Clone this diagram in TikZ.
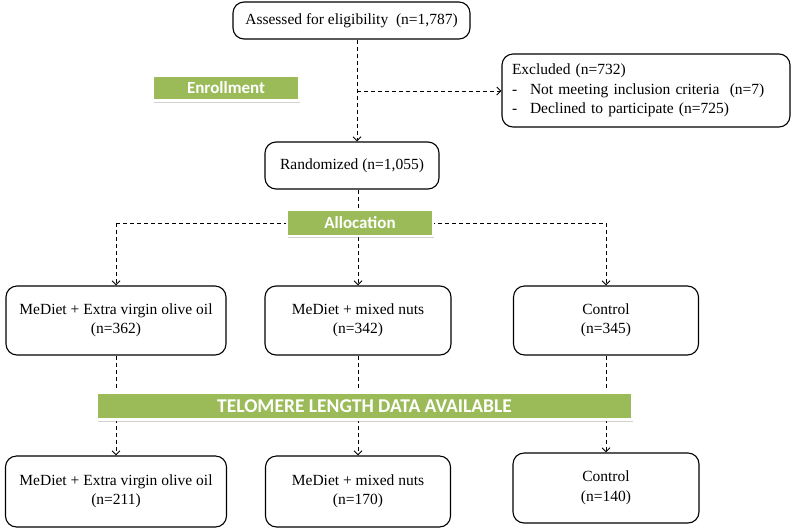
\documentclass[tikz,border=0pt]{standalone}
\usepackage{fontspec}
\setmainfont{Liberation Serif}
\newfontfamily\labelfont{Carlito}
\usetikzlibrary{arrows.meta,shadows,backgrounds}
\definecolor{olivegreen}{RGB}{155,187,89}
\begin{document}
\begin{tikzpicture}[x=1pt,y=1pt,
  box/.style={draw=black, line width=1.1pt, rounded corners=11pt, align=center,
    font=\fontsize{15.5}{19.5}\selectfont, inner sep=0pt},
  greenlabel/.style={fill=olivegreen, draw=white, line width=2.5pt, text=white,
    font=\labelfont\bfseries\fontsize{17}{19}\selectfont, inner sep=0pt,
    drop shadow={shadow xshift=0.8pt, shadow yshift=-2pt, opacity=0.35}},
  conn/.style={dash pattern=on 4pt off 3pt, line width=1pt},
  arr/.style={conn, -{Straight Barb[length=4pt,width=8pt]}}]
\useasboundingbox (0,0) rectangle (792,-528);

\node[box, minimum width=237pt, minimum height=37pt] (assess) at (351.5,-20.5)
  {Assessed for eligibility\ \ (n=1,787)};
\node[greenlabel, minimum width=146pt, minimum height=25pt] (enroll) at (226,-88) {Enrollment};
\node[box, minimum width=288pt, minimum height=73pt, align=left, text width=268pt] (excl) at (646,-90.5)
  {Excluded (n=732)\\\makebox[18pt][l]{-}Not meeting inclusion criteria\ \ (n=7)\\\makebox[18pt][l]{-}Declined to participate (n=725)};
\node[box, minimum width=174pt, minimum height=47pt] (rand) at (352,-165.5) {Randomized (n=1,055)};
\node[greenlabel, minimum width=146pt, minimum height=26pt] (alloc) at (360,-223) {Allocation};

\node[box, minimum width=220pt, minimum height=69pt] (a1) at (116,-320.5) {MeDiet + Extra virgin olive oil\\(n=362)};
\node[box, minimum width=186pt, minimum height=69pt] (b1) at (358,-320.5) {MeDiet + mixed nuts\\(n=342)};
\node[box, minimum width=185pt, minimum height=69pt] (c1) at (606,-320.5) {Control\\(n=345)};

\node[greenlabel, minimum width=535pt, minimum height=27pt, font=\labelfont\bfseries\fontsize{19.5}{21}\selectfont] (telo) at (364.5,-406) {TELOMERE LENGTH DATA AVAILABLE};

\node[box, minimum width=221pt, minimum height=71pt] (a2) at (116,-491.5) {MeDiet + Extra virgin olive oil\\(n=211)};
\node[box, minimum width=185pt, minimum height=71pt] (b2) at (358,-491.5) {MeDiet + mixed nuts\\(n=170)};
\node[box, minimum width=186pt, minimum height=70pt] (c2) at (606,-488) {Control\\(n=140)};

\coordinate (j1) at (357,-91);
\begin{scope}[on background layer]
  \fill[white] (0,0) rectangle (792,-528);
  \draw[arr] (assess.south -| j1) -- (rand.north -| j1);
  \draw[arr] (j1) -- (excl.west |- j1);
  \draw[conn] (rand.south -| b1.north) -- (b1.north |- alloc.center);
  \draw[arr] (b1.north |- alloc.center) -- (b1.north);
  \draw[conn] (a1.north |- alloc.center) -- (c1.north |- alloc.center);
  \draw[arr] (a1.north |- alloc.center) -- (a1.north);
  \draw[arr] (c1.north |- alloc.center) -- (c1.north);
  \draw[arr] (a1.south) -- (a2.north);
  \draw[arr] (b1.south) -- (b2.north);
  \draw[arr] (c1.south) -- (c2.north);
\end{scope}
\end{tikzpicture}
\end{document}
